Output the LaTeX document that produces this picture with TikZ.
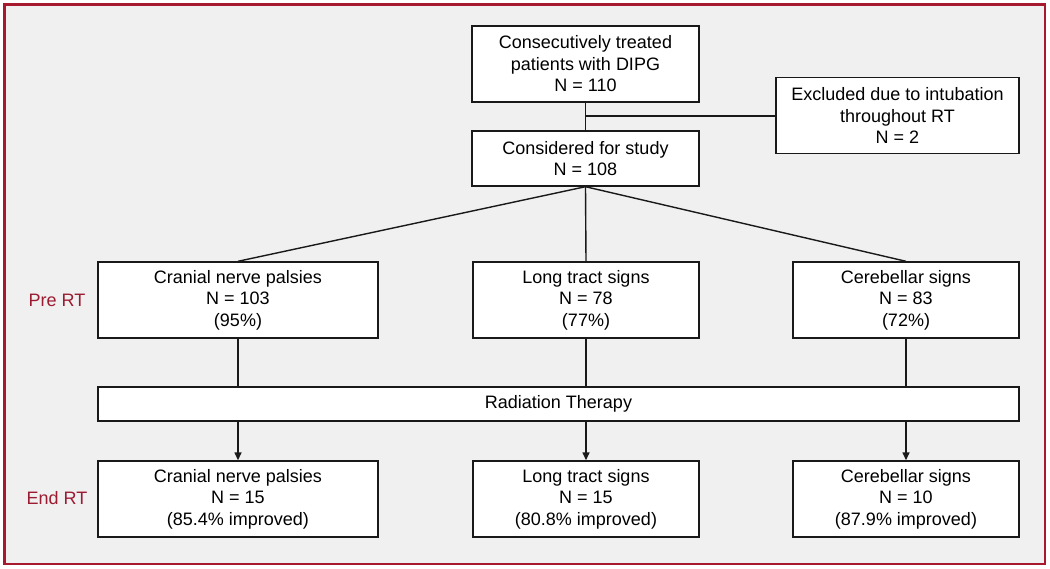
\documentclass[tikz,border=0pt]{standalone}
\usepackage{fontspec}
\setmainfont{Liberation Sans}
\usetikzlibrary{arrows.meta}
\definecolor{framered}{RGB}{166,25,46}
\definecolor{labelred}{RGB}{155,27,48}
\definecolor{bggray}{RGB}{240,240,240}
\definecolor{linecol}{RGB}{25,25,25}
\begin{document}
\begin{tikzpicture}[x=1pt,y=-1pt,
  box/.style={draw=linecol,fill=white,line width=1.4pt,rectangle,inner sep=0pt,align=center,
    font=\fontsize{18}{21.5}\selectfont},
  link/.style={draw=linecol,line width=1.4pt},
  arr/.style={link,-{Triangle[length=8pt,width=7pt]}},
  lbl/.style={text=labelred,font=\fontsize{18}{21.5}\selectfont}]
\useasboundingbox (0,0) rectangle (1050,568);
\fill[white] (0,0) rectangle (1050,568);
\draw[framered,line width=2.2pt,fill=bggray] (4.5,4.5) rectangle (1045,564);

\node[box,minimum width=227pt,minimum height=76pt] (top) at (585.5,64) {Consecutively treated\\patients with DIPG\\N = 110};
\node[box,minimum width=227pt,minimum height=55pt] (cons) at (585.5,158.5) {Considered for study\\N = 108};
\node[box,minimum width=243pt,minimum height=76pt] (excl) at (897.5,115.5) {Excluded due to intubation\\throughout RT\\N = 2};

\node[box,minimum width=280pt,minimum height=76pt] (pre1) at (238,300) {Cranial nerve palsies\\N = 103\\(95\%)};
\node[box,minimum width=226pt,minimum height=76pt] (pre2) at (586,300) {Long tract signs\\N = 78\\(77\%)};
\node[box,minimum width=226pt,minimum height=76pt] (pre3) at (906,300) {Cerebellar signs\\N = 83\\(72\%)};

\node[box,minimum width=921pt,minimum height=34pt] (rad) at (558.5,404) {Radiation Therapy};

\node[box,minimum width=280pt,minimum height=76pt] (end1) at (238,499) {Cranial nerve palsies\\N = 15\\(85.4\% improved)};
\node[box,minimum width=226pt,minimum height=76pt] (end2) at (586,499) {Long tract signs\\N = 15\\(80.8\% improved)};
\node[box,minimum width=226pt,minimum height=76pt] (end3) at (906,499) {Cerebellar signs\\N = 10\\(87.9\% improved)};

\node[lbl] (prelbl) at (57,300) {Pre RT};
\node[lbl] (endlbl) at (57,498) {End RT};

\coordinate (branch) at (585.5,116);
\draw[link] (top.south) -- (cons.north);
\draw[link] (branch) -- (branch -| excl.west);
\draw[link] (cons.south) -- (pre1.north);
\draw[link] (cons.south) -- (pre2.north);
\draw[link] (cons.south) -- (pre3.north);
\foreach \i in {1,2,3}{
  \draw[link] (pre\i.south) -- (pre\i.south |- rad.north);
  \draw[arr] (rad.south -| end\i.north) -- (end\i.north);
}
\end{tikzpicture}
\end{document}
